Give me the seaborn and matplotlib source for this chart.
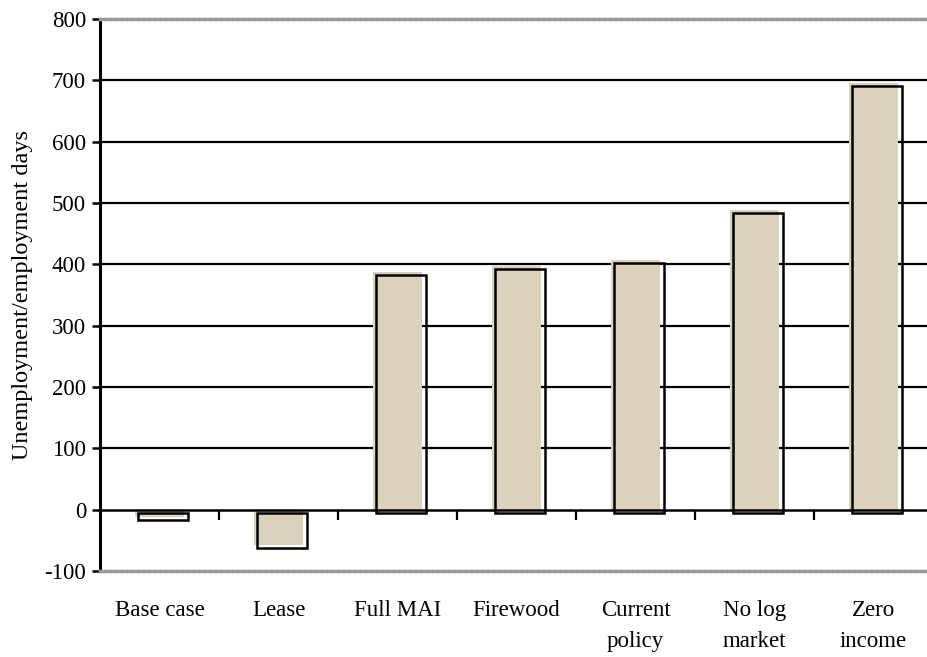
import matplotlib
matplotlib.use("Agg")
import matplotlib.pyplot as plt
import matplotlib.transforms as mtransforms
from matplotlib.patches import Rectangle
import seaborn as sns
import pandas as pd

categories = ["Base case", "Lease", "Full MAI", "Firewood",
              "Current\npolicy", "No log\nmarket", "Zero\nincome"]
values = [-12, -57, 388, 397, 407, 488, 695]
yticks = [-100, 0, 100, 200, 300, 400, 500, 600, 700, 800]

sns.set_theme(style="white")
plt.rcParams['font.family'] = ['Liberation Serif', 'DejaVu Serif']

df = pd.DataFrame({"cat": categories, "val": values})

fig = plt.figure(figsize=(9.28, 6.57), dpi=100)
ax = fig.add_axes([100/928, 86/657, 833/928, 552/657])

for y in yticks[2:-1]:
    ax.axhline(y, color="black", lw=1.6, zorder=0)

sns.barplot(data=df, x="cat", y="val", color="#dcd2bb", saturation=1,
            width=0.42, ax=ax, zorder=2, linewidth=0)

off = mtransforms.ScaledTranslation(2.2/72, -2.2/72, fig.dpi_scale_trans)
for p in list(ax.patches):
    r = Rectangle(p.get_xy(), p.get_width(), p.get_height(),
                  facecolor="none", edgecolor="black", lw=1.8,
                  transform=ax.transData + off, zorder=3)
    ax.add_patch(r)

ax.axhline(0, color="black", lw=1.8, zorder=4)

ax.set_xlim(-0.5, 6.5)
ax.set_ylim(-100, 800)
ax.set_yticks(yticks)
ax.set_yticklabels([str(v) for v in yticks], fontsize=16.5, color="black")
ax.tick_params(axis="y", direction="out", length=6, width=1.8, color="black",
               left=True, pad=4)
ax.tick_params(axis="x", length=0, pad=21)
ax.set_xlabel("")
ax.set_ylabel("Unemployment/employment days", fontsize=17.5, color="black", labelpad=8)
for lab in ax.get_xticklabels():
    lab.set_fontsize(16.5)
    lab.set_color("black")
    lab.set_linespacing(1.6)
    lab.set_verticalalignment("top")

for s in ["top", "bottom"]:
    ax.spines[s].set_color("#9a9a9a")
    ax.spines[s].set_linewidth(2.5)
    ax.spines[s].set_linestyle((0, (1, 0.6)))
ax.spines["left"].set_color("black")
ax.spines["left"].set_linewidth(2.2)
ax.spines["right"].set_visible(False)

sec = ax.secondary_xaxis(100/900)
sec.set_xticks([0.5, 1.5, 2.5, 3.5, 4.5, 5.5])
sec.set_xticklabels([])
sec.tick_params(direction="out", length=7, width=1.6, color="black", bottom=True)
sec.spines["bottom"].set_visible(False)

fig.savefig("out.png", dpi=100)
